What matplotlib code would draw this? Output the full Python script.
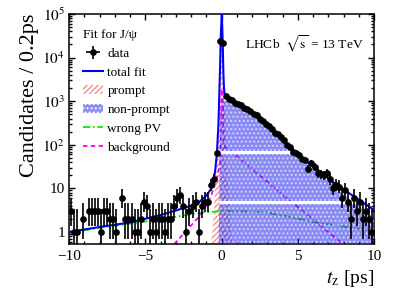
import numpy as np
import matplotlib
matplotlib.use('Agg')
import matplotlib.pyplot as plt
from matplotlib.patches import Patch
from matplotlib.lines import Line2D
from matplotlib.ticker import FixedLocator, FixedFormatter, LogLocator, NullFormatter, MultipleLocator

plt.rcParams['font.family'] = ['Liberation Serif', 'DejaVu Serif']
plt.rcParams['mathtext.fontset'] = 'stix'
plt.rcParams['hatch.linewidth'] = 0.9

# ---------------- data (0.2 ps bins from -10 to 10) ----------------
bin_centers = np.linspace(-9.9, 9.9, 100)
counts = [3, 1, 1, 0, 2, 0, 3, 3, 3, 3,
          1, 3, 3, 2, 2, 1, 0, 6, 2, 2,
          2, 1, 1, 2, 5, 4, 1, 2, 1, 2,
          2, 1, 2, 2, 4, 6, 7, 4, 1, 3,
          4, 5, 1, 4, 5,
          5, 12, 16, 65,
          23600, 21700,
          1310, 1140, 1060, 930, 880, 800, 705, 660, 600, 510,
          470, 395, 355, 300, 275, 230, 190, 175, 150, 128,
          100, 88, 70, 66, 58, 47, 44, 28, 38, 31,
          22, 21, 20, 22, 16, 10, 12, 11, 6, 9,
          5, 2, 6, 3, 5, 2, 3, 2, 1]

# ---------------- fit components ----------------
total_t = [-10, -8, -6, -4, -3, -2, -1.5, -1.0, -0.7, -0.5, -0.4, -0.3, -0.2, -0.15,
           -0.1, -0.05, 0.02, 0.07, 0.12, 0.16, 0.2, 0.3, 0.5, 1.0, 1.5, 2.0, 2.5,
           3.0, 3.5, 4.0, 4.5, 5.0, 5.5, 6.0, 6.5, 7.0, 7.5, 8.0, 8.5, 9.0, 9.5, 10]
total_v = [1.0, 1.3, 1.65, 2.45, 3.1, 4.0, 4.7, 6.8, 9.5, 16, 28, 65, 300, 1200,
           5000, 30000, 100000, 30000, 5000, 2000, 1500, 1350, 1150, 900, 720, 560, 400,
           290, 200, 135, 92, 62, 43, 31, 24, 17, 12.5, 9.6, 7.2, 5.5, 4.2, 3.2]

prompt_t = [-0.7, -0.6, -0.5, -0.4, -0.3, -0.2, -0.15, -0.1, -0.05, 0.02,
            0.09, 0.14, 0.19, 0.24, 0.34, 0.44, 0.54, 0.64, 0.74]
prompt_v = [0.5, 1.0, 3, 12, 45, 275, 1100, 4900, 30000, 97000,
            30000, 4900, 1100, 275, 45, 12, 3, 1.0, 0.5]

nonprompt_t = [-0.2, -0.15, -0.1, -0.05, 0.0, 0.1, 0.3, 0.5, 1.0, 1.5, 2.0, 2.5, 3.0,
               3.5, 4.0, 4.5, 5.0, 5.5, 6.0, 6.5, 7.0, 7.5, 8.0, 8.5, 9.0, 9.5, 10]
nonprompt_v = [0.3, 5, 100, 600, 900, 990, 1000, 990, 830, 675, 528, 377, 272,
               187, 125, 84, 56, 38, 27, 21, 14.4, 10.3, 7.1, 5.3, 4.0, 2.9, 2.1]

wrongpv_t = [-10, -8, -6, -4, -2, -1, 0, 1.5, 3, 4.5, 6, 8, 10]
wrongpv_v = [0.95, 1.25, 1.55, 1.95, 2.55, 2.85, 3.0, 2.95, 2.8, 2.2, 1.7, 1.35, 1.05]

bkg_t = [-3.1, -2.5, -2.0, -1.5, -1.0, -0.7, -0.4, -0.2, -0.1, -0.05, 0.0, 0.05, 0.1,
         0.15, 0.25, 0.5, 0.77, 1.5, 2.5, 3.5, 4.5, 5.5, 6.5, 7.5, 8.0]
bkg_v = [0.53, 0.9, 1.4, 2.2, 4.0, 6.5, 13, 25, 40, 200, 1500, 1900, 800,
         120, 88, 75, 64, 39, 20, 10, 5.2, 2.7, 1.4, 0.72, 0.52]

white_bands = [(62, 73), (4.5, 5.2)]

legend_labels = ['data', 'total fit', 'prompt', 'non-prompt', 'wrong PV', 'background']

# ---------------- figure ----------------
fig = plt.figure(figsize=(4.07, 2.92), dpi=100)
ax = fig.add_axes([69/407, 1-244/292, (374-69)/407, (244-14)/292])
ax.set_yscale('log')

floor = 1e-3
prompt_col = '#ff8080'
np_face = (0.17, 0.17, 0.92)

ax.fill_between(prompt_t, prompt_v, floor, facecolor='none', edgecolor=prompt_col,
                hatch='//////', linewidth=0, zorder=1)
ax.plot(wrongpv_t, wrongpv_v, color='#00ee00', lw=1.3, dashes=(4, 1.5, 1, 1.5), zorder=2)
ax.plot(bkg_t, bkg_v, color='#ff00ff', lw=1.3, dashes=(2.5, 1.8), zorder=2)
npoly = ax.fill_between(nonprompt_t, nonprompt_v, floor, facecolor=np_face, alpha=0.55,
                        linewidth=0, zorder=3)
ndots = ax.fill_between(nonprompt_t, nonprompt_v, floor, facecolor='none', edgecolor='white',
                        hatch='....', linewidth=0, alpha=0.6, zorder=3.1)
for lo, hi in white_bands:
    b = ax.fill_between([-10, 10], [lo, lo], [hi, hi], color='white', linewidth=0, zorder=3.5)
    b.set_clip_path(npoly.get_paths()[0], ax.transData)

ax.plot(total_t, total_v, color='#0000ff', lw=1.5, zorder=4)

cnt = np.array(counts, dtype=float)
m = cnt > 0
c = cnt[m]
err_low = np.sqrt(c - 0.25)
err_up = np.sqrt(c + 0.75) + 1
eb = ax.errorbar(bin_centers[m], c, yerr=[err_low, err_up], xerr=0.1, fmt='o', ms=3.8,
                 color='black', elinewidth=1.2, capsize=0, zorder=5)

ax.set_xlim(-10, 10)
ax.set_ylim(0.53, 1e5)
ax.xaxis.set_major_locator(MultipleLocator(5))
ax.xaxis.set_minor_locator(MultipleLocator(1))
ax.yaxis.set_major_locator(FixedLocator([1, 10, 100, 1e3, 1e4, 1e5]))
ax.yaxis.set_major_formatter(FixedFormatter(['1', '10', '$10^{2}$', '$10^{3}$', '$10^{4}$', '$10^{5}$']))
ax.yaxis.set_minor_locator(LogLocator(base=10, subs=np.arange(2, 10), numticks=30))
ax.yaxis.set_minor_formatter(NullFormatter())
ax.tick_params(which='both', direction='in', top=True, right=True, width=1.0, labelsize=11)
ax.tick_params(which='major', length=4.5)
ax.tick_params(which='minor', length=2.3)
ax.tick_params(axis='x', pad=4)
ax.tick_params(axis='y', pad=3)
for s in ax.spines.values():
    s.set_linewidth(1.1)

ax.set_xlabel(r'$t_{\mathrm{z}}$ [ps]', fontsize=14, loc='right', labelpad=4)
ax.set_ylabel('Candidates / 0.2ps', fontsize=16, loc='top', labelpad=2)

handles = [eb,
           Line2D([], [], color='#0000ff', lw=1.5),
           Patch(facecolor='white', edgecolor=prompt_col, hatch='//////', linewidth=0),
           Patch(facecolor=(0.55, 0.55, 0.95), edgecolor='white', hatch='....', linewidth=0),
           Line2D([], [], color='#00ee00', lw=1.3, dashes=(4, 1.5, 1, 1.5)),
           Line2D([], [], color='#ff00ff', lw=1.3, dashes=(2.5, 1.8))]
leg = ax.legend(handles, legend_labels, title='Fit for J/ψ', loc='upper left',
                bbox_to_anchor=(0.046, 0.935), frameon=False, fontsize=9.5,
                title_fontsize=9.5, alignment='left', handlelength=1.5,
                handletextpad=0.35, labelspacing=0.5, borderaxespad=0, borderpad=0)

fig.text(245/407, 1-44/292, r'LHCb  $\sqrt{\mathrm{s}}$ = 13 TeV', fontsize=9.7, ha='left', va='center')

fig.savefig('out.png', dpi=100)
